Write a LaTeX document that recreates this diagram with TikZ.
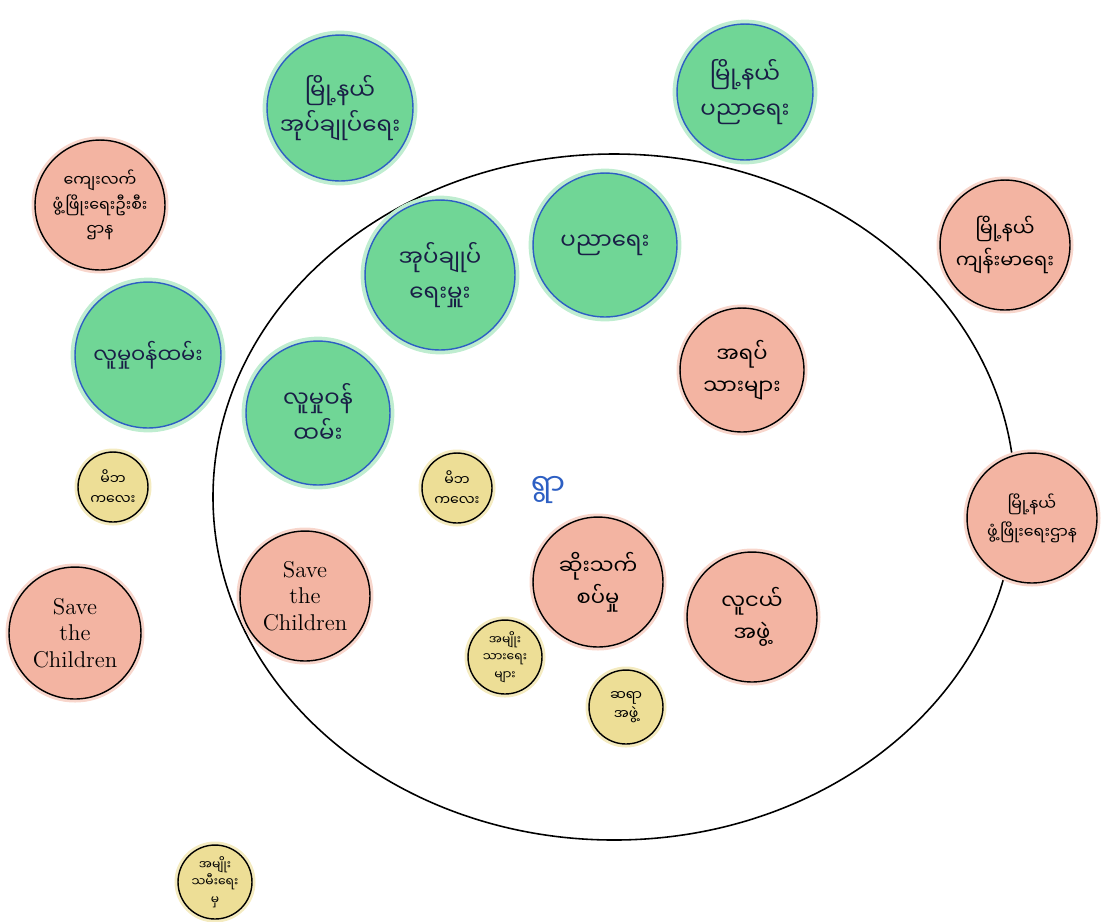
\documentclass[tikz,border=0pt]{standalone}
\usepackage{fontspec}
\newfontfamily\mmfont[Script=Myanmar]{Noto Sans Myanmar UI}
\definecolor{leaf}{RGB}{112,214,150}
\definecolor{rim}{RGB}{45,95,195}
\definecolor{peach}{RGB}{243,180,162}
\definecolor{straw}{RGB}{237,222,150}
\definecolor{ink}{RGB}{25,30,70}

\begin{document}
\begin{tikzpicture}[x=0.02cm,y=-0.02cm,
	sz/.style={minimum size=#1*0.04cm},
	gov/.style={circle,draw=rim,thick,fill=leaf,inner sep=0pt,text=ink,align=center,
		preaction={draw=leaf!45,line width=5pt},font=\mmfont\fontsize{13}{20}\selectfont},
	ngo/.style={circle,draw=black,thick,fill=peach,inner sep=0pt,text=black,align=center,
		preaction={draw=peach!55,line width=4pt},font=\mmfont\fontsize{12}{18}\selectfont},
	grp/.style={circle,draw=black,thick,fill=straw,inner sep=0pt,text=black,align=center,
		preaction={draw=straw!60,line width=4pt},font=\mmfont\fontsize{8}{11}\selectfont},
	eng/.style={font=\fontsize{13}{15}\selectfont}]
	\useasboundingbox (0,0) rectangle (1104,921);
	\draw[line width=0.9pt] (614,497) ellipse (401 and 343);
			\node[gov,sz=73] (townadmin) at (340,108) {မြို့နယ်\\အုပ်ချုပ်ရေး};
			\node[gov,sz=68] (towned) at (745,92) {မြို့နယ်\\ပညာရေး};
			\node[ngo,sz=65,font=\mmfont\fontsize{9}{14}\selectfont] (rural) at (100,205) {ကျေးလက်\\ဖွံ့ဖြိုးရေးဦးစီး\\ဌာန};
			\node[gov,sz=75] (admin) at (440,275) {အုပ်ချုပ်\\ရေးမှူး};
			\node[gov,sz=72] (edu) at (605,245) {ပညာရေး};
			\node[ngo,sz=65,font=\mmfont\fontsize{11}{18}\selectfont] (health) at (1005,245) {မြို့နယ်\\ကျန်းမာရေး};
			\node[gov,sz=73,font=\mmfont\fontsize{12}{18}\selectfont] (welfare) at (148,355) {လူမှုဝန်ထမ်း};
			\node[gov,sz=72] (welfin) at (318,413) {လူမှုဝန်\\ထမ်း};
			\node[ngo,sz=62] (civil) at (742,370) {အရပ်\\သားများ};
			\node[ngo,sz=65,font=\mmfont\fontsize{9}{16}\selectfont] (dev) at (1032,518) {မြို့နယ်\\ဖွံ့ဖြိုးရေးဌာန};
			\node[grp,sz=35] (parentsout) at (113,487) {မိဘ\\ကလေး};
			\node[grp,sz=35] (parentsin) at (457,488) {မိဘ\\ကလေး};
			\node[text=rim,font=\mmfont\fontsize{17}{20}\selectfont] (village) at (548,490) {ရွာ};
			\node[ngo,sz=65] (elders) at (598,582) {ဆိုးသက်\\စပ်မှု};
			\node[ngo,sz=65] (youth) at (752,617) {လူငယ်\\အဖွဲ့};
			\node[ngo,sz=66,eng] (stcout) at (75,633) {Save\\the\\Children};
			\node[ngo,sz=65,eng] (stcin) at (305,596) {Save\\the\\Children};
			\node[grp,sz=37,font=\mmfont\fontsize{7}{10}\selectfont] (menin) at (505,657) {အမျိုး\\သားရေး\\များ};
			\node[grp,sz=37] (teach) at (626,707) {ဆရာ\\အဖွဲ့};
			\node[grp,sz=37,font=\mmfont\fontsize{7}{10}\selectfont] (women) at (215,882) {အမျိုး\\သမီးရေး\\မှ};
		\end{tikzpicture}
\end{document}
